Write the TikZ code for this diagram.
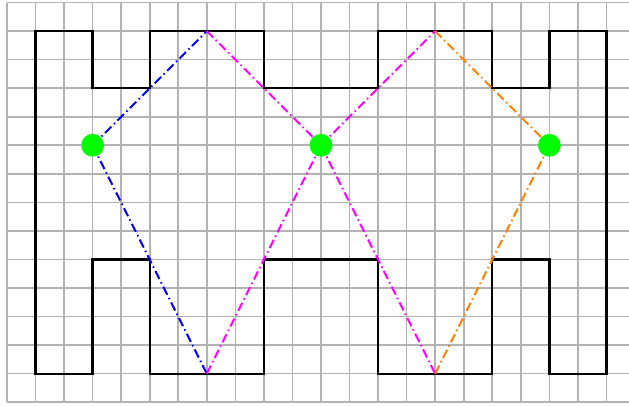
\documentclass[tikz,border=0pt]{standalone}
\usepackage{tikz}
\usetikzlibrary{positioning}
\definecolor{raypink}{RGB}{255,0,255}
\definecolor{rayorange}{RGB}{255,128,0}
\definecolor{gridgray}{RGB}{178,178,178}

\begin{document}
\begin{tikzpicture}[
  wall/.style={draw=black, line width=2.3pt, line join=miter},
  ray/.style={line width=2pt, dash pattern=on 9pt off 3.5pt on 1.5pt off 3.5pt},
  spot/.style={circle, fill=green, inner sep=0pt, minimum size=8mm}
]
\useasboundingbox (-0.245,-0.13) rectangle (21.79,14.09);
\clip (-0.245,-0.13) rectangle (21.79,14.09);
\draw[gridgray, line width=1.6pt] (0,0) grid (22,14);
\draw[wall] (1,1) -- (1,13) -- (3,13) -- (3,11) -- (5,11) -- (5,13) -- (9,13) -- (9,11)
  -- (13,11) -- (13,13) -- (17,13) -- (17,11) -- (19,11) -- (19,13) -- (21,13) -- (21,1)
  -- (19,1) -- (19,5) -- (17,5) -- (17,1) -- (13,1) -- (13,5) -- (9,5) -- (9,1) -- (5,1)
  -- (5,5) -- (3,5) -- (3,1) -- cycle;
\coordinate (left) at (3,9);
\coordinate (mid) at (11,9);
\coordinate (right) at (19,9);
\coordinate (topA) at (7,13);
\coordinate (botA) at (7,1);
\coordinate (topB) at (15,13);
\coordinate (botB) at (15,1);
\draw[ray, blue] (left) -- (topA);
\draw[ray, blue] (left) -- (botA);
\draw[ray, raypink] (topA) -- (mid);
\draw[ray, raypink] (botA) -- (mid);
\draw[ray, raypink] (mid) -- (topB);
\draw[ray, raypink] (mid) -- (botB);
\draw[ray, rayorange] (topB) -- (right);
\draw[ray, rayorange] (botB) -- (right);
\node[spot] (leftdot) at (left) {};
\node[spot] (middot) at (mid) {};
\node[spot] (rightdot) at (right) {};
\end{tikzpicture}
\end{document}
